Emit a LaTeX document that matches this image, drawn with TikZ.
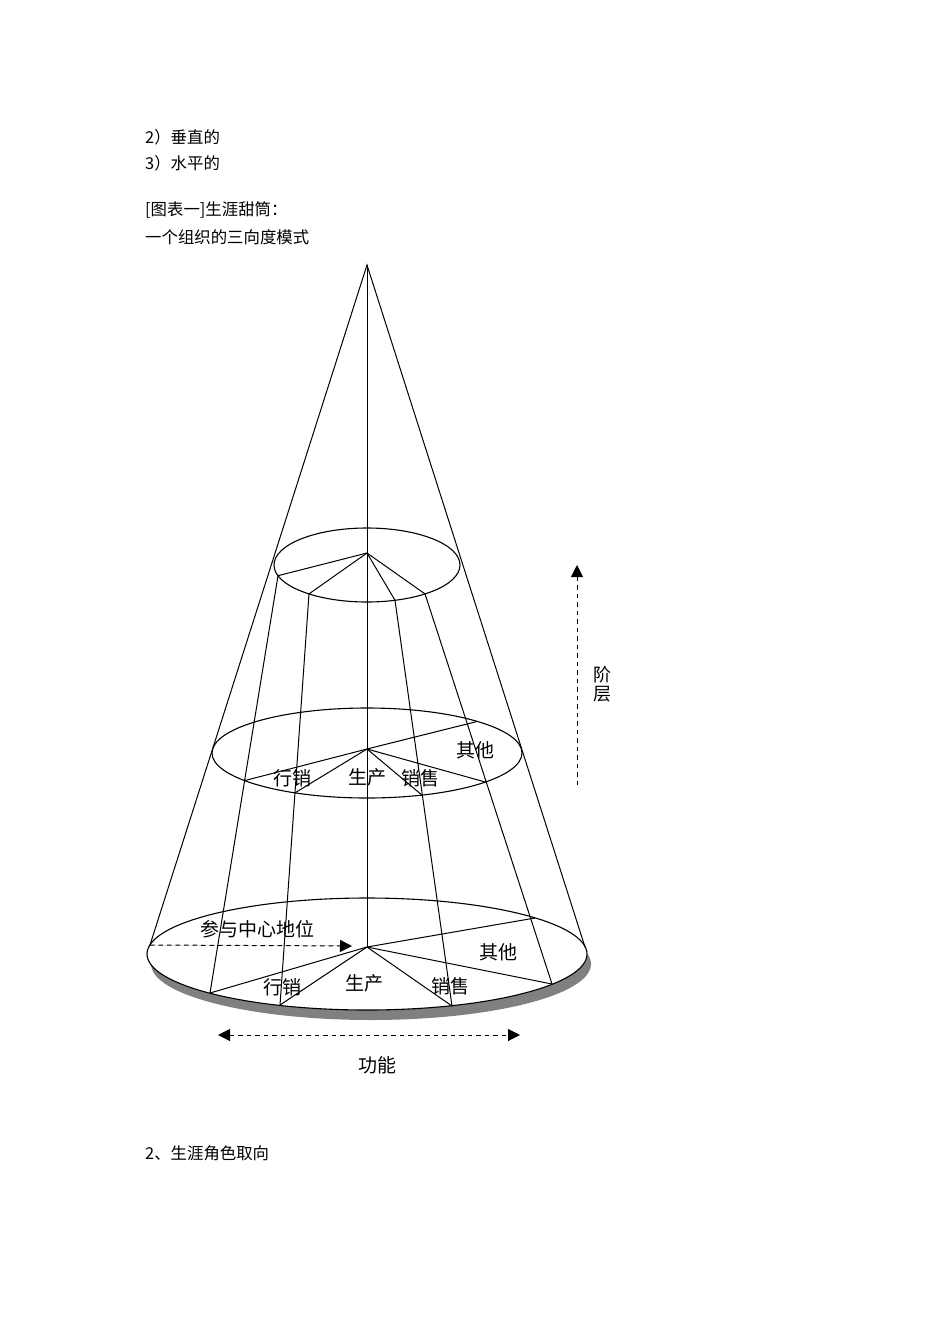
\documentclass[tikz,border=0pt]{standalone}
\usepackage{fontspec}
\newfontfamily\cjk{Noto Sans CJK SC}
\usetikzlibrary{arrows.meta,calc}
\definecolor{shadowgray}{HTML}{808080}
\begin{document}
\begin{tikzpicture}[x=1pt,y=-1pt,
  body/.style={font=\cjk\fontsize{16.4}{18}\selectfont, anchor=west, inner sep=0pt},
  lbl/.style={font=\cjk\fontsize{19}{22}\selectfont, inner sep=0pt},
  vlbl/.style={font=\cjk\fontsize{18}{19}\selectfont, inner sep=0pt, align=center},
  edge/.style={line width=1pt, draw=black},
  ring/.style={line width=1.1pt, draw=black},
  dasharrow/.style={line width=1pt, draw=black, dash pattern=on 4.5pt off 4pt},
  tri/.tip={Triangle[length=12pt, width=12pt]}]
\useasboundingbox (0,0) rectangle (950,1344);

% ---- texts around the figure
\node[body] (t1) at (145,137) {2）垂直的};
\node[body] (t2) at (145,163) {3）水平的};
\node[body] (t3) at (145,210) {[图表一]生涯甜筒：};
\node[body] (t4) at (145,237) {一个组织的三向度模式};
\node[body] (t5) at (145,1153) {2、生涯角色取向};

% ---- key points
\coordinate (apex) at (367,265);
\coordinate (ctop) at (367,553);
\coordinate (cmid) at (367,749);
\coordinate (cbot) at (367,947);
\coordinate (A1) at (278,575.7);
\coordinate (A2) at (309,593.9);
\coordinate (A3) at (395,600.3);
\coordinate (A4) at (425,593.9);
\coordinate (C1) at (210,993);
\coordinate (C2) at (280,1005);
\coordinate (C3) at (452,1006);
\coordinate (C4) at (552,984);
\coordinate (C5) at (535,918);
\coordinate (B1) at ($(A1)!0.491!(C1)$);
\coordinate (B2) at ($(A2)!0.484!(C2)$);
\coordinate (B3) at ($(A3)!0.481!(C3)$);
\coordinate (B4) at ($(A4)!0.483!(C4)$);
\coordinate (B5) at (477,721.5);
\coordinate (L) at (150,945);
\coordinate (R) at (585,947);

% ---- bottom ellipse with shadow
\fill[shadowgray] (371,964) ellipse [x radius=220pt, y radius=56pt];
\filldraw[ring, fill=white] (367,954) ellipse [x radius=220pt, y radius=56pt];

% ---- middle and top ellipses
\draw[ring] (367,753) ellipse [x radius=155pt, y radius=45pt];
\draw[ring] (367,565) ellipse [x radius=93pt, y radius=37pt];

% ---- cone outline and axis
\draw[edge] (L) -- (apex) -- (R);
\draw[edge] (apex) -- (cbot);

% ---- sector lines through the layers
\draw[edge] (A1) -- (C1);
\draw[edge] (A2) -- (C2);
\draw[edge] (A3) -- (C3);
\draw[edge] (A4) -- (C4);

% ---- spokes
\foreach \p in {A1,A2,A3,A4} \draw[edge] (ctop) -- (\p);
\foreach \p in {B1,B2,B3,B4,B5} \draw[edge] (cmid) -- (\p);
\foreach \p in {C1,C2,C3,C4,C5} \draw[edge] (cbot) -- (\p);

% ---- labels in middle layer
\node[lbl] (m1) at (292,778) {行销};
\node[lbl] (m2) at (367,777) {生产};
\node[lbl] (m3) at (420,778) {销售};
\node[lbl] (m4) at (475,750) {其他};

% ---- labels in bottom layer
\node[lbl] (b0) at (257,929) {参与中心地位};
\node[lbl] (b1) at (282,987) {行销};
\node[lbl] (b2) at (364,983) {生产};
\node[lbl] (b3) at (450,986) {销售};
\node[lbl] (b4) at (498,952) {其他};

% ---- centrality arrow
\coordinate (ctip) at (352,946);
\draw[dasharrow, fill=black, -{tri}] (L) -- (ctip);

% ---- hierarchy arrow
\coordinate (h0) at (577,785);
\coordinate (h1) at (577,565);
\draw[dasharrow, -{tri}] (h0) -- (h1);
\node[vlbl] (hl) at (602,684) {阶\\层};

% ---- function arrow
\coordinate (f0) at (218,1035);
\coordinate (f1) at (520,1035);
\draw[dasharrow, {tri}-{tri}] (f0) -- (f1);
\node[lbl] (fl) at (377,1065) {功能};
\end{tikzpicture}
\end{document}
